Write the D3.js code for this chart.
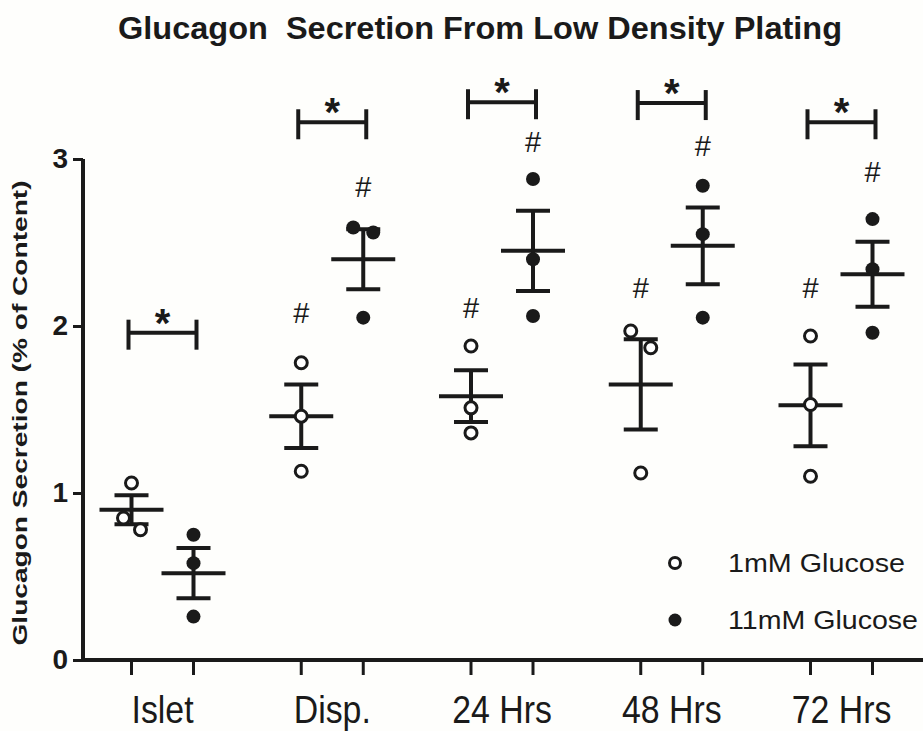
<!DOCTYPE html>
<html>
<head>
<meta charset="utf-8">
<script src="https://cdn.jsdelivr.net/npm/d3@7/dist/d3.min.js"></script>
<style>
  html, body { margin: 0; padding: 0; background: #fefefc; }
  svg { display: block; }
  text { font-family: Arial, "Liberation Sans", sans-serif; fill: #1a1a1a; }
</style>
</head>
<body>
<svg id="chart" width="923" height="731"></svg>
<script>
// ---------------- data ----------------
const groups = ["Islet", "Disp.", "24 Hrs", "48 Hrs", "72 Hrs"];
const seriesNames = ["1mM Glucose", "11mM Glucose"];
const yTicks = [0, 1, 2, 3];

const lowPoints = [[1.06, 0.85, 0.78], [1.78, 1.46, 1.13], [1.88, 1.51, 1.36], [1.97, 1.87, 1.12], [1.94, 1.53, 1.10]];
const highPoints = [[0.75, 0.58, 0.26], [2.59, 2.56, 2.05], [2.88, 2.40, 2.06], [2.84, 2.55, 2.05], [2.64, 2.34, 1.96]];
const lowMean = [0.90, 1.46, 1.58, 1.65, 1.525];
const lowSem = [0.087, 0.19, 0.155, 0.27, 0.245];
const highMean = [0.52, 2.40, 2.45, 2.48, 2.31];
const highSem = [0.15, 0.18, 0.24, 0.23, 0.195];
// scatter spread (in marker widths) used where points overlap
const lowSpread = [[0, -0.8, 0.9], [0, 0, 0], [0, 0, 0], [-1, 1, 0], [0, 0, 0]];
const highSpread = [[0, 0, 0], [-1, 1, 0], [0, 0, 0], [0, 0, 0], [0, 0, 0]];
// significance annotations (value units)
const starBracket = [1.96, 3.22, 3.34, 3.335, 3.22];
const hashLow = [null, 2.08, 2.11, 2.23, 2.23];
const hashHigh = [null, 2.83, 3.10, 3.08, 2.92];

const titleText = "Glucagon  Secretion From Low Density Plating";
const yTitle = "Glucagon Secretion (% of Content)";

// ---------------- layout ----------------
const svg = d3.select("#chart");
const INK = "#1a1a1a";

const y = d3.scaleLinear().domain([0, 3]).range([660, 159]);
const xg = d3.scalePoint().domain(groups).range([162.5, 841.5]);
const xs = d3.scalePoint().domain(seriesNames).range([-31, 31]);
const X = (g, s) => xg(g) + xs(s);
const spreadPx = 10;

// title
svg.append("text")
  .attr("x", 118).attr("y", 39)
  .attr("font-size", 32).attr("font-weight", "bold")
  .attr("textLength", 724).attr("lengthAdjust", "spacingAndGlyphs")
  .style("white-space", "pre")
  .text(titleText);

// y axis title
svg.append("text")
  .attr("transform", "translate(27,413) rotate(-90)")
  .attr("text-anchor", "middle")
  .attr("font-size", 21).attr("font-weight", "bold")
  .attr("textLength", 465).attr("lengthAdjust", "spacingAndGlyphs")
  .text(yTitle);

// y axis
const yAxis = svg.append("g").attr("transform", "translate(83,0)")
  .call(d3.axisLeft(y).tickValues(yTicks).tickSize(10).tickPadding(5).tickFormat(d3.format("d")));
yAxis.select(".domain").attr("stroke", INK).attr("stroke-width", 4).attr("d", `M0,${y(3)}V${y(0) + 2}`);
yAxis.selectAll(".tick line").attr("stroke", INK).attr("stroke-width", 3);
yAxis.selectAll(".tick text").attr("font-size", 28).attr("font-weight", "bold")
  .attr("font-family", "Arial, 'Liberation Sans', sans-serif").attr("fill", INK);

// x axis (ticks at each series position)
const tickKeys = [];
groups.forEach(g => seriesNames.forEach(s => tickKeys.push({ g, s })));
const xAxisG = svg.append("g").attr("transform", `translate(0,${y(0)})`);
xAxisG.append("line").attr("x1", 81).attr("x2", 923).attr("y1", 0).attr("y2", 0)
  .attr("stroke", INK).attr("stroke-width", 4);
xAxisG.selectAll("line.tick").data(tickKeys).join("line").attr("class", "tick")
  .attr("x1", d => X(d.g, d.s)).attr("x2", d => X(d.g, d.s))
  .attr("y1", 0).attr("y2", 15).attr("stroke", INK).attr("stroke-width", 3);
xAxisG.selectAll("text.lab").data(groups).join("text").attr("class", "lab")
  .attr("transform", d => `translate(${xg(d)},63) scale(0.94,1.08)`)
  .attr("text-anchor", "middle").attr("font-size", 36)
  .text(d => d);

// error bars + points
function drawSeries(name, points, means, sems, spread, filled) {
  const gSer = svg.append("g");
  groups.forEach((g, i) => {
    const cx = X(g, name);
    const m = means[i], e = sems[i];
    gSer.append("line").attr("x1", cx).attr("x2", cx).attr("y1", y(m - e)).attr("y2", y(m + e))
      .attr("stroke", INK).attr("stroke-width", 4);
    [m - e, m + e].forEach(v => gSer.append("line")
      .attr("x1", cx - 17).attr("x2", cx + 17).attr("y1", y(v)).attr("y2", y(v))
      .attr("stroke", INK).attr("stroke-width", 4));
    gSer.append("line").attr("x1", cx - 32).attr("x2", cx + 32).attr("y1", y(m)).attr("y2", y(m))
      .attr("stroke", INK).attr("stroke-width", 4);
    gSer.selectAll(null).data(points[i]).join("circle")
      .attr("cx", (d, j) => cx + spread[i][j] * spreadPx)
      .attr("cy", d => y(d))
      .attr("r", filled ? 7 : 6)
      .attr("fill", filled ? INK : "#ffffff")
      .attr("stroke", INK).attr("stroke-width", filled ? 0 : 3);
  });
}
drawSeries(seriesNames[0], lowPoints, lowMean, lowSem, lowSpread, false);
drawSeries(seriesNames[1], highPoints, highMean, highSem, highSpread, true);

// significance brackets with stars
groups.forEach((g, i) => {
  const x1 = X(g, seriesNames[0]) - 3, x2 = X(g, seriesNames[1]) + 3;
  const by = y(starBracket[i]);
  const br = svg.append("g");
  br.append("line").attr("x1", x1).attr("x2", x2).attr("y1", by).attr("y2", by)
    .attr("stroke", INK).attr("stroke-width", 4);
  [x1, x2].forEach(xx => br.append("line").attr("x1", xx).attr("x2", xx)
    .attr("y1", by - 13).attr("y2", by + 17).attr("stroke", INK).attr("stroke-width", 4));
  br.append("text").attr("x", (x1 + x2) / 2).attr("y", by + 4)
    .attr("text-anchor", "middle").attr("font-size", 40).attr("font-weight", "bold")
    .text("*");
});

// hash marks
[[hashLow, seriesNames[0]], [hashHigh, seriesNames[1]]].forEach(([arr, s]) => {
  arr.forEach((v, i) => {
    if (v == null) return;
    svg.append("text").attr("x", X(groups[i], s)).attr("y", y(v) + 10)
      .attr("text-anchor", "middle").attr("font-size", 29).text("#");
  });
});

// legend
const legend = svg.append("g");
const legendRows = [
  { name: seriesNames[0], cy: 563, filled: false, len: 177 },
  { name: seriesNames[1], cy: 620, filled: true, len: 190 }
];
legendRows.forEach(r => {
  legend.append("circle").attr("cx", 675).attr("cy", r.cy).attr("r", r.filled ? 6.5 : 5.5)
    .attr("fill", r.filled ? INK : "#ffffff").attr("stroke", INK).attr("stroke-width", r.filled ? 0 : 3);
  legend.append("text").attr("x", 728).attr("y", r.cy + 9)
    .attr("font-size", 25).attr("textLength", r.len).attr("lengthAdjust", "spacingAndGlyphs")
    .text(r.name);
});
</script>
</body>
</html>
